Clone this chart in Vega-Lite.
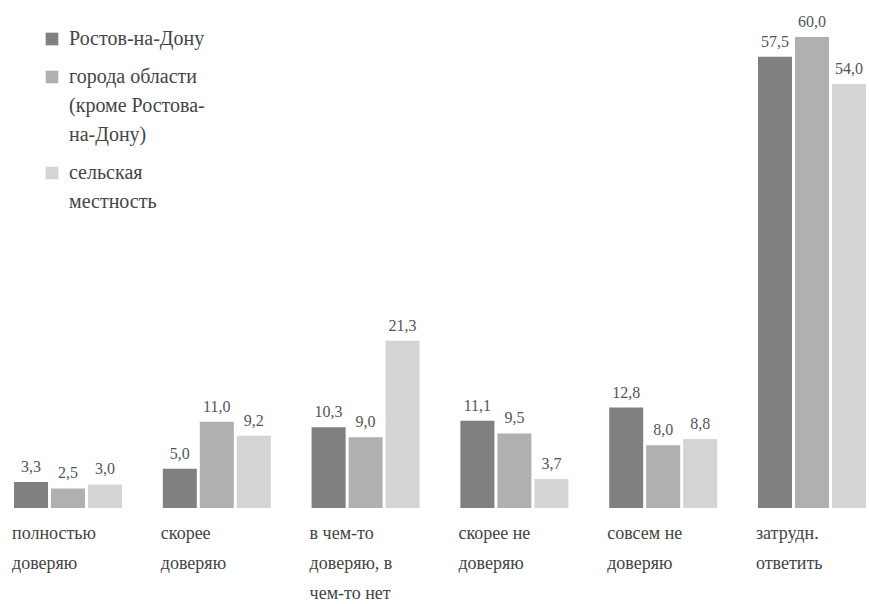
{
  "$schema": "https://vega.github.io/schema/vega-lite/v6.json",
  "autosize": "none",
  "width": 852,
  "height": 471,
  "padding": {"left": 14, "top": 37, "right": 3, "bottom": 96},
  "background": "white",
  "data": {
    "values": [
      {"cat": "полностью|доверяю", "grp": "Ростов-на-Дону", "v": 3.3},
      {"cat": "полностью|доверяю", "grp": "города области|(кроме Ростова-|на-Дону)", "v": 2.5},
      {"cat": "полностью|доверяю", "grp": "сельская|местность", "v": 3.0},
      {"cat": "скорее|доверяю", "grp": "Ростов-на-Дону", "v": 5.0},
      {"cat": "скорее|доверяю", "grp": "города области|(кроме Ростова-|на-Дону)", "v": 11.0},
      {"cat": "скорее|доверяю", "grp": "сельская|местность", "v": 9.2},
      {"cat": "в чем-то|доверяю, в|чем-то нет", "grp": "Ростов-на-Дону", "v": 10.3},
      {"cat": "в чем-то|доверяю, в|чем-то нет", "grp": "города области|(кроме Ростова-|на-Дону)", "v": 9.0},
      {"cat": "в чем-то|доверяю, в|чем-то нет", "grp": "сельская|местность", "v": 21.3},
      {"cat": "скорее не|доверяю", "grp": "Ростов-на-Дону", "v": 11.1},
      {"cat": "скорее не|доверяю", "grp": "города области|(кроме Ростова-|на-Дону)", "v": 9.5},
      {"cat": "скорее не|доверяю", "grp": "сельская|местность", "v": 3.7},
      {"cat": "совсем не|доверяю", "grp": "Ростов-на-Дону", "v": 12.8},
      {"cat": "совсем не|доверяю", "grp": "города области|(кроме Ростова-|на-Дону)", "v": 8.0},
      {"cat": "совсем не|доверяю", "grp": "сельская|местность", "v": 8.8},
      {"cat": "затрудн.|ответить", "grp": "Ростов-на-Дону", "v": 57.5},
      {"cat": "затрудн.|ответить", "grp": "города области|(кроме Ростова-|на-Дону)", "v": 60.0},
      {"cat": "затрудн.|ответить", "grp": "сельская|местность", "v": 54.0}
    ]
  },
  "encoding": {
    "x": {
      "field": "cat", "type": "nominal", "sort": null, "title": null,
      "scale": {"paddingInner": 0.274, "paddingOuter": 0},
      "axis": {
        "domain": false, "ticks": false, "labelAngle": 0,
        "labelExpr": "split(datum.label, '|')",
        "labelAlign": "left", "labelOffset": -56, "labelPadding": 16,
        "labelBaseline": "top", "labelLineHeight": 30,
        "labelFont": "Liberation Serif, serif", "labelFontSize": 18, "labelColor": "#444"
      }
    },
    "xOffset": {
      "field": "grp", "type": "nominal", "sort": null,
      "scale": {"paddingInner": 0.08, "paddingOuter": 0}
    },
    "y": {
      "field": "v", "type": "quantitative", "title": null,
      "scale": {"domain": [0, 60], "nice": false},
      "axis": null
    }
  },
  "layer": [
    {
      "mark": {"type": "bar"},
      "encoding": {
        "color": {
          "field": "grp", "type": "nominal", "sort": null,
          "scale": {"range": ["#808080", "#b0b0b0", "#d4d4d4"]},
          "legend": {
            "title": null, "orient": "none", "legendX": 28, "legendY": -8,
            "symbolType": "square", "symbolSize": 160, "symbolStrokeWidth": 0,
            "labelExpr": "split(datum.label, '|')",
            "labelFont": "Liberation Serif, serif", "labelFontSize": 20, "labelColor": "#444",
            "labelLimit": 300, "labelOffset": 7,
            "rowPadding": 18,
            "encode": {"labels": {"update": {"lineHeight": {"value": 29}}}}
          }
        }
      }
    },
    {
      "mark": {"type": "text", "baseline": "bottom", "dy": -7, "font": "Liberation Serif, serif", "fontSize": 16, "color": "#555"},
      "encoding": {
        "text": {"field": "v", "type": "quantitative", "format": ".1f"}
      }
    }
  ],
  "config": {
    "view": {"stroke": null},
    "locale": {"number": {"decimal": ",", "thousands": " ", "grouping": [3], "currency": ["", ""]}}
  }
}
